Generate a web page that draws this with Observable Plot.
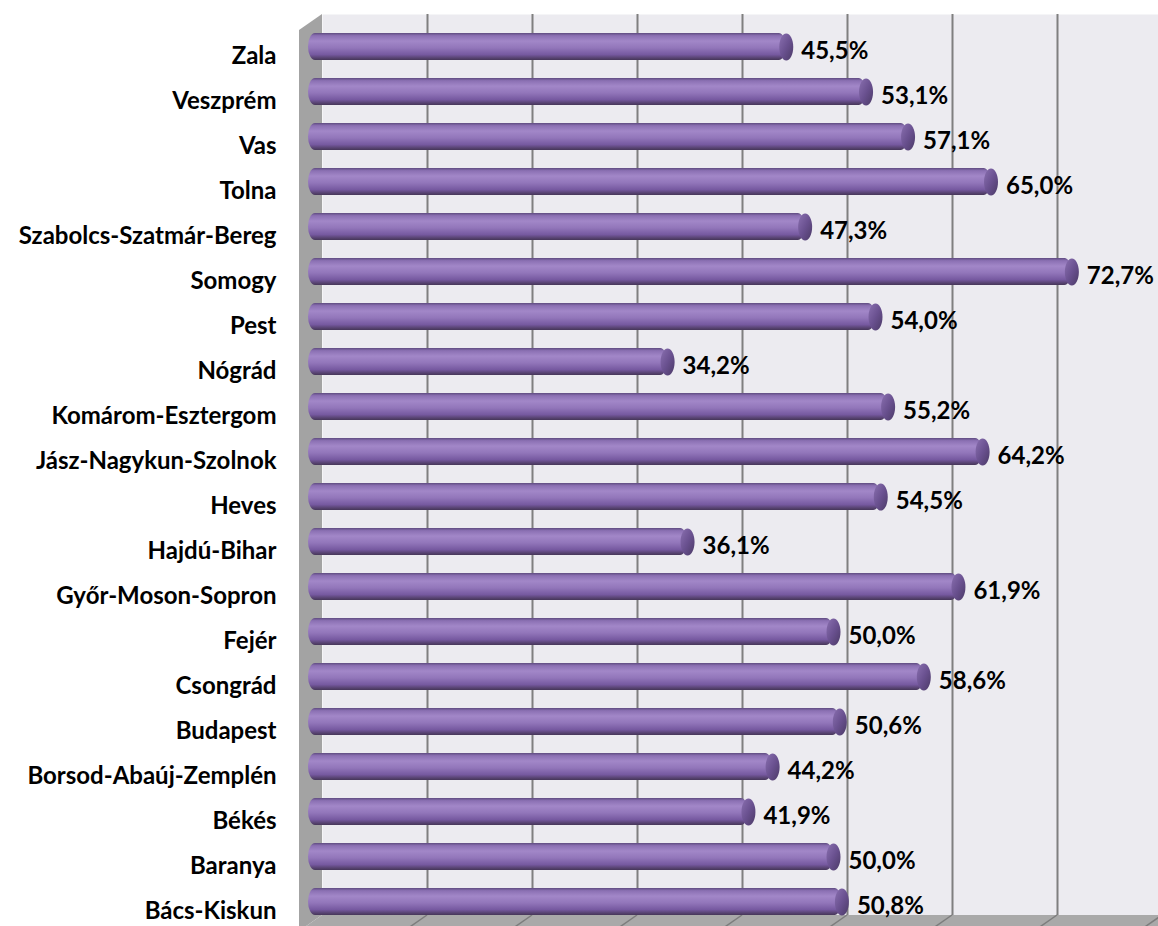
<!DOCTYPE html>
<html>
<head>
<meta charset="utf-8">
<script src="https://cdn.jsdelivr.net/npm/d3@7"></script>
<script src="https://cdn.jsdelivr.net/npm/@observablehq/plot@0.6"></script>
<style>
  html, body { margin: 0; padding: 0; background: #ffffff; }
  #chart { width: 1158px; height: 926px; overflow: hidden; }
</style>
</head>
<body>
<div id="chart"></div>
<script>
const counties = [
  "Zala", "Veszprém", "Vas", "Tolna", "Szabolcs-Szatmár-Bereg", "Somogy", "Pest",
  "Nógrád", "Komárom-Esztergom", "Jász-Nagykun-Szolnok", "Heves", "Hajdú-Bihar",
  "Győr-Moson-Sopron", "Fejér", "Csongrád", "Budapest", "Borsod-Abaúj-Zemplén",
  "Békés", "Baranya", "Bács-Kiskun"
];
const shares = [
  45.5, 53.1, 57.1, 65.0, 47.3, 72.7, 54.0,
  34.2, 55.2, 64.2, 54.5, 36.1,
  61.9, 50.0, 58.6, 50.6, 44.2,
  41.9, 50.0, 50.8
];
const gridTicks = [0, 10, 20, 30, 40, 50, 60, 70, 80];

const data = counties.map((name, i) => ({name, value: shares[i]}));
const fmt = v => v.toFixed(1).replace(".", ",") + "%";

// 3D geometry (pixels)
const BACK = 14;      // back wall offset to the right of the bars
const FRONT = 9;      // front edge offset to the left of the bars
const WALL_TOP = 14;
const FLOOR_Y = 915;
const DEPTH_Y = 16;

// ellipse symbol for the cylinder end cap
const capSymbol = {
  draw(ctx, size) {
    const rx = 7, ry = 13.6, k = 0.5523;
    ctx.moveTo(rx, 0);
    ctx.bezierCurveTo(rx, ry * k, rx * k, ry, 0, ry);
    ctx.bezierCurveTo(-rx * k, ry, -rx, ry * k, -rx, 0);
    ctx.bezierCurveTo(-rx, -ry * k, -rx * k, -ry, 0, -ry);
    ctx.bezierCurveTo(rx * k, -ry, rx, -ry * k, rx, 0);
    ctx.closePath();
  }
};

function walls(index, scales, values, dimensions) {
  const {width} = dimensions;
  const x = scales.x;
  const x0 = x(0);
  const ns = "http://www.w3.org/2000/svg";
  const g = document.createElementNS(ns, "g");
  const poly = (pts, fill) => {
    const p = document.createElementNS(ns, "polygon");
    p.setAttribute("points", pts.map(d => d.join(",")).join(" "));
    p.setAttribute("fill", fill);
    g.appendChild(p);
  };
  // left side wall
  poly([[x0 - FRONT, WALL_TOP + DEPTH_Y], [x0 + BACK, WALL_TOP], [x0 + BACK, FLOOR_Y], [x0 - FRONT, FLOOR_Y + DEPTH_Y]], "#a3a3a3");
  // floor
  poly([[x0 + BACK, FLOOR_Y], [width + 40, FLOOR_Y], [width + 40 - BACK - FRONT, FLOOR_Y + DEPTH_Y], [x0 - FRONT, FLOOR_Y + DEPTH_Y]], "#a9a9a9");
  // floor gridlines
  for (const t of gridTicks) {
    if (t === 0) continue;
    const l = document.createElementNS(ns, "line");
    l.setAttribute("x1", x(t) + BACK); l.setAttribute("y1", FLOOR_Y);
    l.setAttribute("x2", x(t) - FRONT); l.setAttribute("y2", FLOOR_Y + DEPTH_Y);
    l.setAttribute("stroke", "#7d7d7d"); l.setAttribute("stroke-width", 1.5);
    g.appendChild(l);
  }
  return g;
}

const chart = Plot.plot({
  width: 1158,
  height: 926,
  marginLeft: 308,
  marginRight: 10,
  marginTop: 0,
  marginBottom: 0,
  style: {background: "#ffffff", fontFamily: "Lato, 'Open Sans', sans-serif"},
  x: {domain: [0, 80], axis: null},
  y: {domain: counties, range: [23, 925], paddingInner: 0.4, paddingOuter: 0.2, axis: null},
  marks: [
    // back wall
    Plot.frame({fill: "#ecebf0", stroke: null, dx: BACK, insetTop: WALL_TOP, insetBottom: 926 - FLOOR_Y}),
    // vertical gridlines on the back wall
    Plot.ruleX(gridTicks.filter(t => t > 0), {dx: BACK, insetTop: WALL_TOP, insetBottom: 926 - FLOOR_Y, stroke: "#7f7f7f", strokeWidth: 2}),
    walls,
    // cylinder bodies
    Plot.barX(data, {x: "value", y: "name", fill: "url(#barGrad)", rx: 7, ry: 13.5}),
    // cylinder end caps
    Plot.dot(data, {x: "value", y: "name", symbol: capSymbol, r: 7, fill: "url(#capGrad)", stroke: null}),
    // value labels
    Plot.text(data, {x: "value", y: "name", text: d => fmt(d.value), textAnchor: "start", dx: BACK + 1, dy: 4,
      fontSize: 24, fontWeight: "bold", fontFamily: "Lato", fill: "#000000"}),
    // category labels
    Plot.text(counties, {y: d => d, text: d => d, frameAnchor: "left", textAnchor: "end", dx: -32, dy: 9,
      fontSize: 24, fontWeight: "bold", fontFamily: "Lato", fill: "#000000"})
  ]
});

const svg = d3.select(chart);
const defs = svg.insert("defs", ":first-child");
const bg = defs.append("linearGradient").attr("id", "barGrad").attr("x1", 0).attr("y1", 0).attr("x2", 0).attr("y2", 1);
[[0, "#5f4b80"], [0.1, "#8b70b3"], [0.3, "#a287c8"], [0.55, "#9276ba"], [0.8, "#7659a0"], [0.93, "#56426f"], [1, "#463659"]]
  .forEach(([o, c]) => bg.append("stop").attr("offset", o).attr("stop-color", c));
const cg = defs.append("linearGradient").attr("id", "capGrad").attr("x1", 0).attr("y1", 0).attr("x2", 1).attr("y2", 1);
[[0, "#8a70b0"], [0.5, "#6a5190"], [1, "#4b3a66"]]
  .forEach(([o, c]) => cg.append("stop").attr("offset", o).attr("stop-color", c));

document.getElementById("chart").appendChild(chart);
</script>
</body>
</html>
